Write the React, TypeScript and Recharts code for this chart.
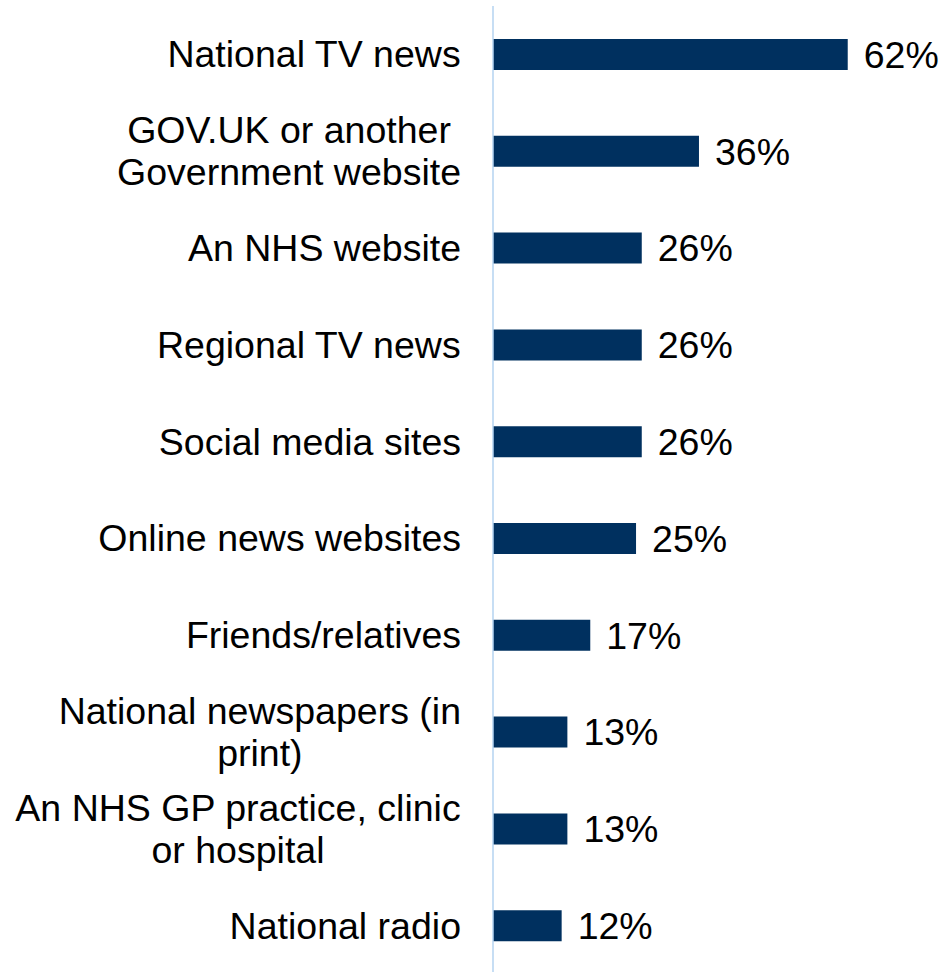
import React from 'react';
import { BarChart, Bar, XAxis, YAxis, LabelList } from 'recharts';

const categories = [
  'National TV news',
  'GOV.UK or another\nGovernment website',
  'An NHS website',
  'Regional TV news',
  'Social media sites',
  'Online news websites',
  'Friends/relatives',
  'National newspapers (in\nprint)',
  'An NHS GP practice, clinic\nor hospital',
  'National radio',
];
const values = [62, 36, 26, 26, 26, 25, 17, 13, 13, 12];

const data = categories.map((name, i) => ({ name, value: values[i] }));

const FONT = "'Liberation Sans', Arial, sans-serif";
const FONT_SIZE = 37.5;

let ctx: CanvasRenderingContext2D | null = null;
const measure = (s: string) => {
  if (!ctx) {
    ctx = document.createElement('canvas').getContext('2d');
  }
  if (!ctx) return s.length * FONT_SIZE * 0.5;
  ctx.font = `${FONT_SIZE}px ${FONT}`;
  return ctx.measureText(s).width;
};

const CategoryTick = (props: any) => {
  const { x, y, payload } = props;
  const lines: string[] = String(payload.value).split('\n');
  const right = x - 24;
  const widest = Math.max(...lines.map(measure));
  const cx = right - widest / 2;
  const lineH = 42;
  const top = y - ((lines.length - 1) * lineH) / 2;
  return (
    <g>
      {lines.map((l, i) => (
        <text
          key={i}
          x={cx}
          y={top + i * lineH}
          textAnchor="middle"
          dominantBaseline="central"
          fill="#000"
          fontSize={FONT_SIZE}
          fontFamily={FONT}
        >
          {l}
        </text>
      ))}
    </g>
  );
};

export default function App() {
  return (
    <div style={{ position: 'absolute', left: 0, top: 0, background: '#fff' }}>
      <BarChart
        width={945}
        height={976}
        data={data}
        layout="vertical"
        margin={{ top: 6, right: 0, bottom: 2, left: 0 }}
      >
        <XAxis type="number" domain={[0, 79]} hide />
        <YAxis
          type="category"
          dataKey="name"
          width={493}
          axisLine={{ stroke: '#B4D3F0', strokeWidth: 1.5 }}
          tickLine={false}
          tick={<CategoryTick />}
          interval={0}
        />
        <Bar dataKey="value" fill="#00305F" barSize={31} isAnimationActive={false}>
          <LabelList
            dataKey="value"
            position="right"
            offset={16}
            formatter={(v: any) => `${v}%`}
            fill="#000"
            fontSize={FONT_SIZE}
            fontFamily={FONT}
          />
        </Bar>
      </BarChart>
    </div>
  );
}
